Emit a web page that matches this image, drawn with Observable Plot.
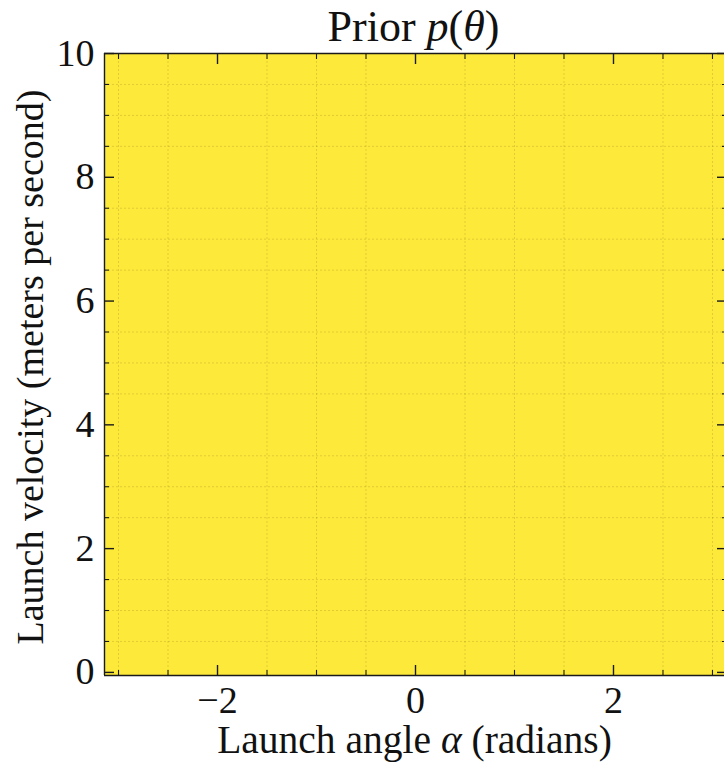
<!DOCTYPE html>
<html>
<head>
<meta charset="utf-8">
<script src="https://cdn.jsdelivr.net/npm/d3@7"></script>
<script src="https://cdn.jsdelivr.net/npm/@observablehq/plot@0.6"></script>
<style>
  html, body { margin: 0; padding: 0; background: #fff; }
  #chart svg { display: block; }
</style>
</head>
<body>
<div id="chart"></div>
<script>
// ---- data ----
const angleEdges = [-3.14159, 3.14159];          // launch angle α (radians)
const velocityEdges = [-0.05, 10];               // launch velocity (m/s)
const priorDensity = [0.0159];                    // uniform prior p(θ)
const majorAngleTicks = [-2, 0, 2];
const angleTickLabels = ["−2", "0", "2"];
const minorAngleTicks = [-3, -2.5, -1.5, -1, -0.5, 0.5, 1, 1.5, 2.5, 3];
const majorVelocityTicks = [0, 2, 4, 6, 8, 10];
const velocityTickLabels = ["0", "2", "4", "6", "8", "10"];
const minorVelocityTicks = [0.5, 1, 1.5, 2.5, 3, 3.5, 4.5, 5, 5.5, 6.5, 7, 7.5, 8.5, 9, 9.5];
const titleText = "Prior p(θ)";
const xLabelText = "Launch angle α (radians)";
const yLabelText = "Launch velocity (meters per second)";

const cells = priorDensity.map((d, i) => ({
  a1: angleEdges[i], a2: angleEdges[i + 1],
  v1: velocityEdges[0], v2: velocityEdges[1],
  density: d
}));

const FONT = "Liberation Serif";
const frameColor = "#1a1a1a";

const chart = Plot.plot({
  width: 724,
  height: 767,
  marginLeft: 104,
  marginRight: 0,
  marginTop: 53,
  marginBottom: 92,
  style: { fontFamily: FONT, background: "#fff", color: "#000" },
  x: { domain: [angleEdges[0], angleEdges[1]], range: [104, 726] },
  y: { domain: [velocityEdges[0], velocityEdges[1]] },
  color: { type: "linear", scheme: "viridis", domain: [0, priorDensity[0]] },
  marks: [
    Plot.rect(cells, { x1: "a1", x2: "a2", y1: "v1", y2: "v2", fill: "density", fillOpacity: 0.9, shapeRendering: "crispEdges" }),
    Plot.gridX(minorAngleTicks, { stroke: "#000", strokeOpacity: 0.12, strokeWidth: 1, strokeDasharray: "2,2" }),
    Plot.gridY(minorVelocityTicks, { stroke: "#000", strokeOpacity: 0.12, strokeWidth: 1, strokeDasharray: "2,2" }),
    // frame
    Plot.ruleX([angleEdges[0]], { stroke: frameColor, strokeWidth: 1.4 }),
    Plot.ruleY([velocityEdges[0], velocityEdges[1]], { stroke: frameColor, strokeWidth: 1.4 }),
    // inward ticks, all four sides
    Plot.axisX(majorAngleTicks, { anchor: "bottom", tickSize: -10, stroke: frameColor, strokeWidth: 1.4, fill: "none", label: null }),
    Plot.axisX(minorAngleTicks, { anchor: "bottom", tickSize: -5, stroke: frameColor, strokeWidth: 1.1, fill: "none", label: null }),
    Plot.axisX(majorAngleTicks, { anchor: "top", tickSize: -10, stroke: frameColor, strokeWidth: 1.4, fill: "none", label: null }),
    Plot.axisX(minorAngleTicks, { anchor: "top", tickSize: -5, stroke: frameColor, strokeWidth: 1.1, fill: "none", label: null }),
    Plot.axisY(majorVelocityTicks, { anchor: "left", tickSize: -10, stroke: frameColor, strokeWidth: 1.4, fill: "none", label: null }),
    Plot.axisY(minorVelocityTicks, { anchor: "left", tickSize: -5, stroke: frameColor, strokeWidth: 1.1, fill: "none", label: null }),
    Plot.axisY(majorVelocityTicks, { anchor: "right", tickSize: -10, dx: 2, stroke: frameColor, strokeWidth: 1.4, fill: "none", label: null }),
    Plot.axisY(minorVelocityTicks, { anchor: "right", tickSize: -5, dx: 2, stroke: frameColor, strokeWidth: 1.1, fill: "none", label: null }),
    // tick labels
    Plot.text(majorAngleTicks, { x: d => d, text: (d, i) => angleTickLabels[i], frameAnchor: "bottom", dy: 37, lineAnchor: "bottom", textAnchor: "middle", fontSize: 38, fill: "#111" }),
    Plot.text(majorVelocityTicks, { y: d => d, text: (d, i) => velocityTickLabels[i], frameAnchor: "left", dx: -10, dy: 12, textAnchor: "end", lineAnchor: "bottom", fontSize: 38, fill: "#111" }),
    // axis labels and title
    Plot.text([xLabelText], { text: d => d, frameAnchor: "bottom", dy: 77, lineAnchor: "bottom", textAnchor: "middle", fontSize: 39.5, fill: "#111" }),
    Plot.text([yLabelText], { text: d => d, frameAnchor: "left", rotate: -90, dx: -62, dy: 2.5, lineAnchor: "bottom", textAnchor: "middle", fontSize: 38, fill: "#111" }),
    Plot.text([titleText], { text: d => d, frameAnchor: "top", dy: -13, dx: -1, lineAnchor: "bottom", textAnchor: "middle", fontSize: 44, fill: "#111" })
  ]
});

function italicize(svg, full, html) {
  for (const t of svg.querySelectorAll("text")) {
    if (t.textContent === full) {
      const target = t.querySelector("tspan") || t;
      target.innerHTML = html;
    }
  }
}
italicize(chart, titleText, 'Prior <tspan font-style="italic">p</tspan>(<tspan font-style="italic">θ</tspan>)');
italicize(chart, xLabelText, 'Launch angle <tspan font-style="italic">α</tspan> (radians)');

document.getElementById("chart").appendChild(chart);
</script>
</body>
</html>
